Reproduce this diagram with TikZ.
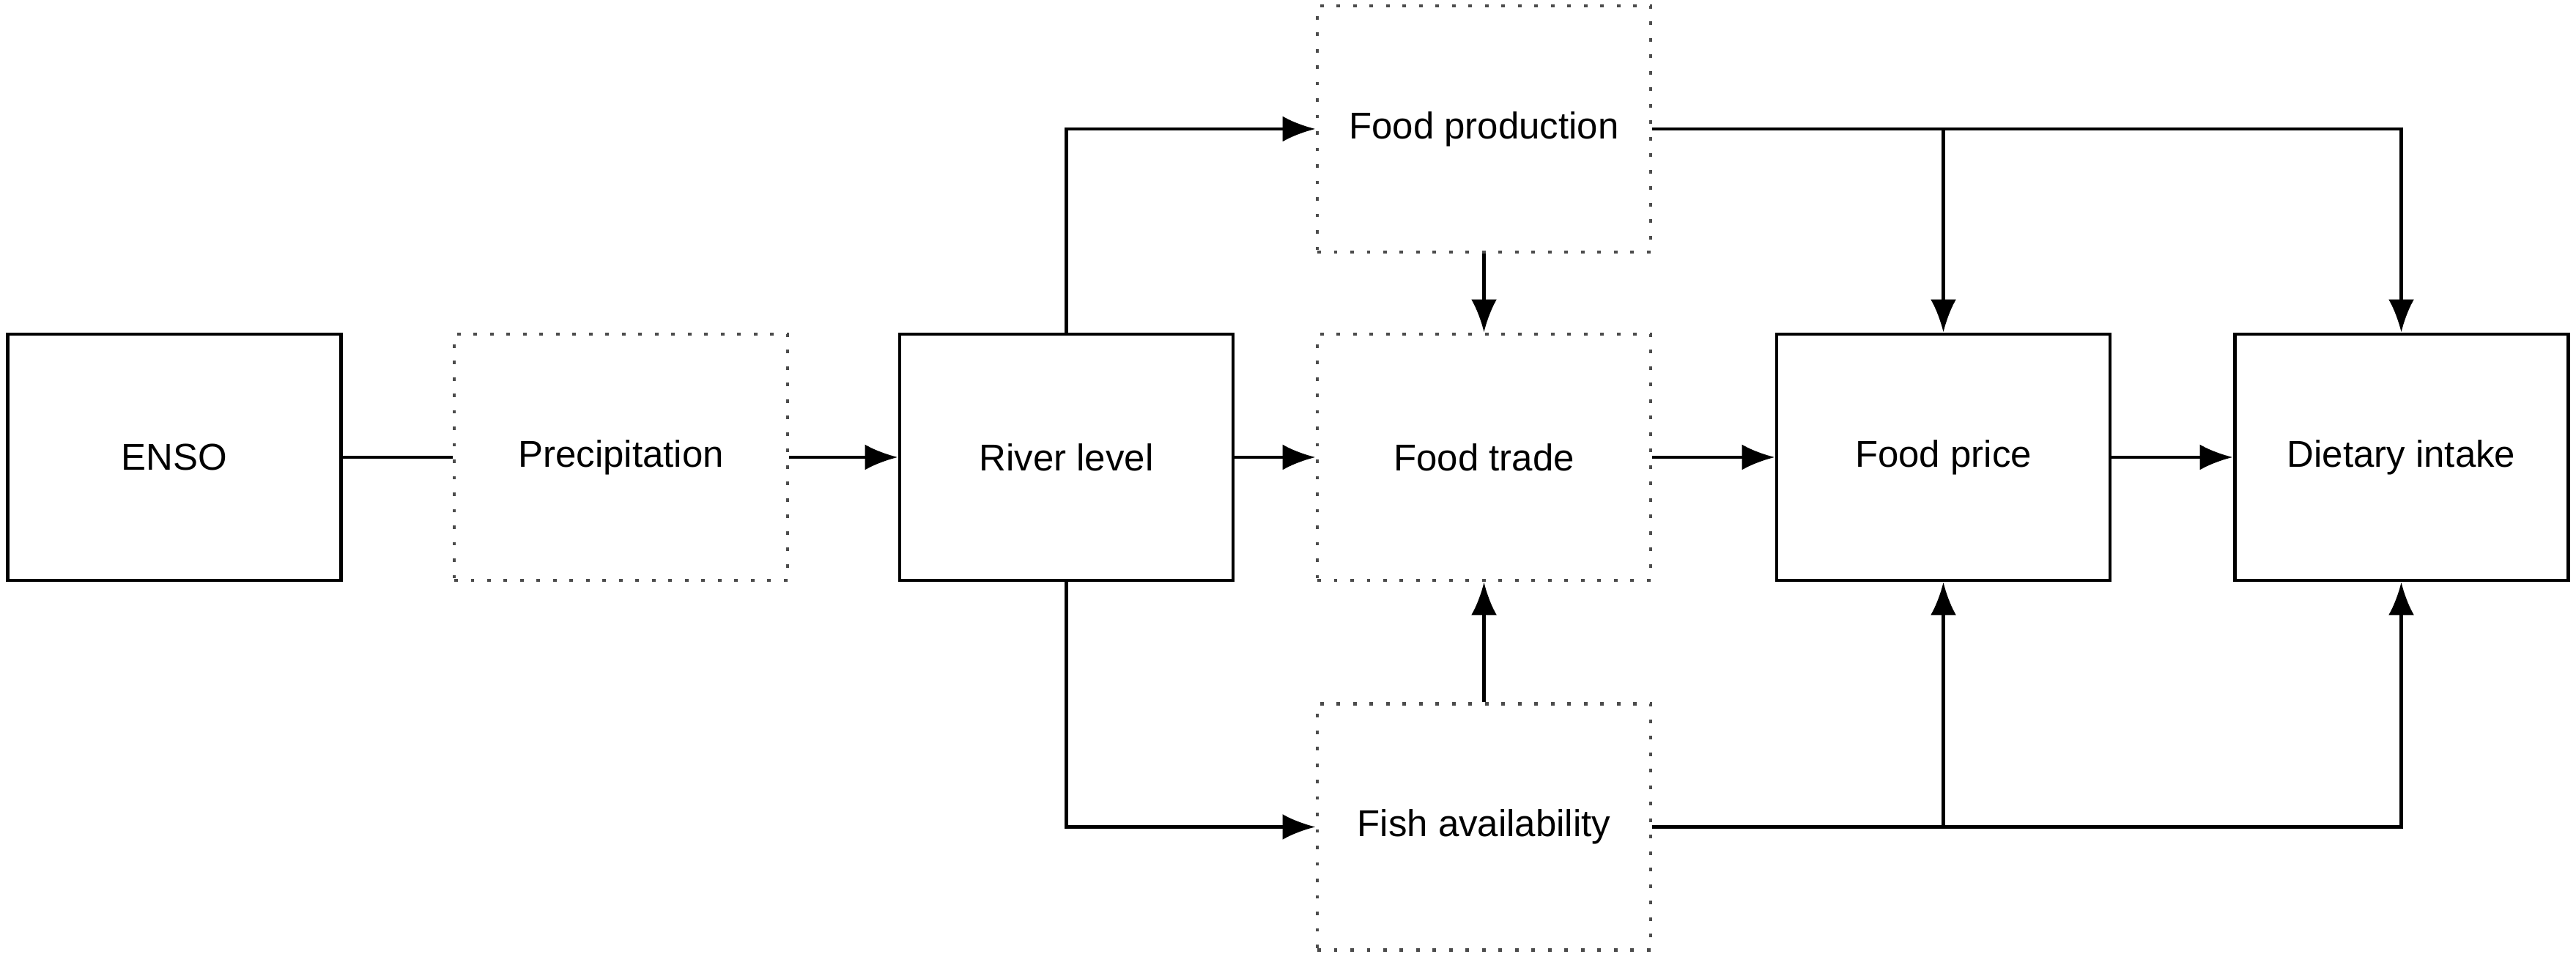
\documentclass[tikz,border=0pt]{standalone}
\usepackage{fontspec}
\setmainfont{Liberation Sans}
\usetikzlibrary{shapes,arrows.meta}

\begin{document}
\begin{tikzpicture}[>={Latex[length=4.5mm,width=3.5mm]},
  solidbox/.style={shape=rectangle,draw=black,align=center,line width=1.4pt,minimum width=4.55cm,minimum height=3.36cm,inner sep=0pt,font=\fontsize{14.5}{17}\selectfont},
  dotbox/.style={solidbox,draw=black!70,dash pattern=on 1.4pt off 5pt},
  link/.style={draw=black,line width=1.3pt}]
\useasboundingbox (0,0) rectangle (35.16,13.06);
\node[solidbox] (0) at (2.38,6.82) {ENSO};
\node[dotbox] (1) at (8.475,6.82) {Precipitation};
\node[solidbox] (2) at (14.555,6.82) {River level};
\node[dotbox] (3) at (20.255,6.82) {Food trade};
\node[dotbox] (4) at (20.255,11.30) {Food production};
\node[dotbox] (5) at (20.255,1.775) {Fish availability};
\node[solidbox] (6) at (26.525,6.82) {Food price};
\node[solidbox] (7) at (32.775,6.82) {Dietary intake};

\path [link] (0) edge (1);
\path [->,link] (1) edge (2);
\path [->,link] (2) edge (3);
\path [->,link] (3) edge (6);
\path [->,link] (6) edge (7);
\path [->,link] (4) edge (3);
\path [->,link] (5) edge (3);
\path [->,link] (2) |- (4);
\path [->,link] (2) |- (5);
\path [->,link] (4) -| (7);
\path [->,link] (5) -| (7);
\path [->,link] (4 -| 6) -- (6);
\path [->,link] (5 -| 6) -- (6);
\end{tikzpicture}
\end{document}
